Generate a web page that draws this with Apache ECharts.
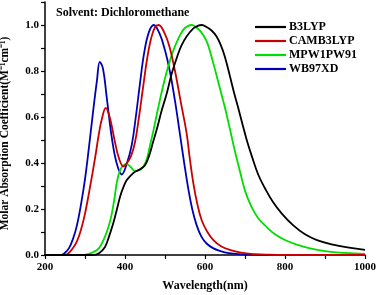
<!DOCTYPE html>
<html>
<head>
<meta charset="utf-8">
<script src="https://cdn.jsdelivr.net/npm/echarts@6/dist/echarts.min.js"></script>
<style>html,body{margin:0;padding:0;background:#fff}#c{width:378px;height:295px}</style>
</head>
<body>
<div id="c"></div>
<script>
const seriesNames = ['B3LYP', 'CAMB3LYP', 'MPW1PW91', 'WB97XD'];
const seriesColors = ['#000000', '#c80000', '#00dd00', '#0000b4'];

const b3lypX = [200,320,335,350,360,371,380,388,396,404,414,425,437,450,460,470,480,492,504,517,530,541,554,571,583,592,605,617,629,640,650,662,672,683,695,706,717,733,750,770,792,820,850,880,920,960,1000];
const b3lypY = [0,0,0.008,0.035,0.08,0.14,0.20,0.255,0.295,0.325,0.345,0.362,0.372,0.39,0.43,0.49,0.55,0.63,0.70,0.79,0.86,0.91,0.95,0.985,0.997,1.0,0.99,0.975,0.95,0.91,0.86,0.78,0.71,0.64,0.56,0.49,0.43,0.35,0.29,0.23,0.18,0.13,0.09,0.065,0.045,0.032,0.022];

const camX = [200,250,260,270,280,290,300,312,325,335,342,352,360,367,375,385,396,405,415,425,435,446,455,465,475,484,500,512,525,540,554,562,571,581,592,606,621,640,662,690,720,760,800,1000];
const camY = [0,0,0.01,0.03,0.06,0.11,0.18,0.29,0.42,0.53,0.59,0.64,0.61,0.56,0.49,0.42,0.385,0.40,0.43,0.49,0.60,0.74,0.85,0.94,0.99,1.0,0.96,0.90,0.80,0.66,0.53,0.42,0.31,0.22,0.15,0.10,0.065,0.038,0.022,0.01,0.004,0.001,0,0];

const mpwX = [200,290,305,320,335,350,360,367,374,380,388,396,404,413,425,437,446,455,463,471,483,496,508,521,533,546,557,567,578,590,604,615,626,638,650,662,675,688,700,716,733,755,775,800,830,860,900,950,1000];
const mpwY = [0,0,0.003,0.012,0.03,0.08,0.13,0.18,0.25,0.32,0.37,0.39,0.395,0.385,0.365,0.37,0.385,0.42,0.48,0.54,0.64,0.74,0.82,0.89,0.94,0.98,0.995,1.0,0.99,0.97,0.93,0.87,0.80,0.72,0.64,0.55,0.45,0.36,0.28,0.21,0.16,0.12,0.09,0.065,0.045,0.03,0.017,0.009,0.005];

const wbX = [200,240,250,260,270,280,290,300,310,320,330,337,345,354,367,379,392,405,417,427,437,448,460,472,487,500,512,525,537,548,558,568,579,591,604,620,637,660,690,720,760,1000];
const wbY = [0,0,0.01,0.03,0.07,0.13,0.22,0.33,0.47,0.62,0.76,0.84,0.81,0.69,0.51,0.40,0.35,0.40,0.48,0.60,0.74,0.88,0.97,1.0,0.96,0.89,0.80,0.67,0.53,0.40,0.29,0.20,0.13,0.08,0.05,0.03,0.018,0.008,0.003,0.001,0,0];

const titleText = 'Solvent: Dichloromethane';
const xName = 'Wavelength(nm)';
const yName = 'Molar Absorption Coefficient(M\u207B\u00B9cm\u207B\u00B9)';

const xs = [b3lypX, camX, mpwX, wbX];
const ys = [b3lypY, camY, mpwY, wbY];
const FONT = '"Liberation Serif", "Times New Roman", serif';

const chart = echarts.init(document.getElementById('c'));
chart.setOption({
  animation: false,
  backgroundColor: '#fff',
  title: {
    text: titleText, left: 51, top: 2,
    textStyle: {fontFamily: FONT, fontWeight: 'bold', fontSize: 12, color: '#000'}
  },
  legend: {
    orient: 'vertical', left: 250, top: 16, itemGap: 2,
    itemWidth: 31, itemHeight: 12,
    icon: 'path://M0,0 L31,0 L31,2.2 L0,2.2 Z',
    textStyle: {fontFamily: FONT, fontWeight: 'bold', fontSize: 12, color: '#000', padding: [0, 0, 0, -2]},
    data: seriesNames
  },
  grid: {left: 45, right: 13, top: 2, bottom: 40, containLabel: false, outerBoundsMode: 'none'},
  xAxis: {
    type: 'value', min: 200, max: 1000, interval: 100,
    name: xName, nameLocation: 'middle', nameGap: 25,
    nameTextStyle: {fontFamily: FONT, fontWeight: 'bold', fontSize: 12, color: '#000'},
    axisLine: {lineStyle: {color: '#000', width: 1.5}},
    axisTick: {show: true, length: 4, lineStyle: {color: '#000', width: 1.2}},
    splitLine: {show: false},
    axisLabel: {
      fontFamily: FONT, fontWeight: 'bold', fontSize: 11, color: '#000', margin: 7,
      formatter: v => (v % 200 === 0 ? String(v) : '')
    }
  },
  yAxis: {
    type: 'value', min: 0, max: 1.1, interval: 0.1,
    name: yName, nameLocation: 'middle', nameGap: 34, nameRotate: 90,
    nameTextStyle: {fontFamily: FONT, fontWeight: 'bold', fontSize: 11.5, color: '#000', padding: [0, 0, 0, -10]},
    axisLine: {show: true, lineStyle: {color: '#000', width: 1.5}},
    axisTick: {show: true, length: 4, lineStyle: {color: '#000', width: 1.2}},
    splitLine: {show: false},
    axisLabel: {
      fontFamily: FONT, fontWeight: 'bold', fontSize: 11, color: '#000', margin: 6,
      formatter: v => {
        const k = Math.round(v * 10);
        return (k % 2 === 0 && k <= 10) ? (k / 10).toFixed(1) : '';
      }
    }
  },
  series: seriesNames.map((n, i) => ({
    name: n, type: 'line', smooth: 0.4, showSymbol: false,
    data: xs[i].map((x, j) => [x, ys[i][j]]),
    lineStyle: {color: seriesColors[i], width: 1.8},
    itemStyle: {color: seriesColors[i]},
    z: 10 - i
  }))
});
</script>
</body>
</html>
